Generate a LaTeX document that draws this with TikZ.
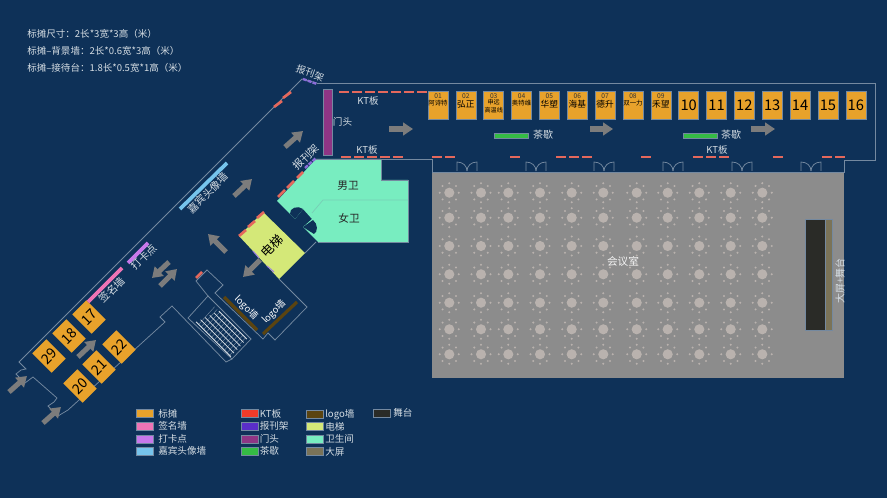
\documentclass[tikz,border=0pt]{standalone}
\usepackage{fontspec}
\setmainfont{Noto Sans CJK SC}
\usetikzlibrary{arrows.meta}
\definecolor{bgnavy}{HTML}{0E3158}
\definecolor{wallblue}{HTML}{7489A0}
\definecolor{labelgray}{HTML}{D5DDE3}
\definecolor{boothorange}{HTML}{E8A22B}
\definecolor{signpink}{HTML}{EE74B5}
\definecolor{checkviolet}{HTML}{C778EA}
\definecolor{guestblue}{HTML}{76C4EC}
\definecolor{ktred}{HTML}{F03B2A}
\definecolor{ktsalmon}{HTML}{E4685C}
\definecolor{rackindigo}{HTML}{5A2FC8}
\definecolor{gatepurple}{HTML}{8E3585}
\definecolor{teagreen}{HTML}{35BC45}
\definecolor{logobrown}{HTML}{5B4410}
\definecolor{liftyellow}{HTML}{D4E878}
\definecolor{wcmint}{HTML}{78EDC0}
\definecolor{screenolive}{HTML}{7A7358}
\definecolor{stageblack}{HTML}{2A2B27}
\definecolor{flowgray}{HTML}{7C7C7C}
\definecolor{roomgray}{HTML}{8C8C8C}
\definecolor{tabledisc}{HTML}{B9B2AE}
\tikzset{
  wall/.style={draw=wallblue, line width=0.55pt, line join=miter},
  ktdash/.style={draw=ktsalmon, line width=2pt},
  flowarrow/.style={draw=flowgray, line width=3.8pt, -{Triangle[length=7.5pt,width=9.5pt]}},
  boothbox/.style={draw=wallblue, line width=0.4pt, fill=boothorange, inner sep=0pt, minimum width=15pt, minimum height=21pt},
  diagbooth/.style={draw=none, fill=boothorange, inner sep=0pt, minimum width=15pt, minimum height=20.5pt, rotate=45, font=\fontsize{10.5pt}{11pt}\selectfont, text=black},
  tag/.style={text=labelgray, font=\fontsize{7.15pt}{8pt}\selectfont, inner sep=0pt},
  walltag/.style={tag, font=\fontsize{7.8pt}{8pt}\selectfont},
  swatch/.style={draw=wallblue, line width=0.3pt, minimum width=13pt, minimum height=6pt, inner sep=0pt, anchor=west},
  legendtag/.style={text=labelgray, font=\fontsize{7.2pt}{8pt}\selectfont, inner sep=0pt, anchor=west},
}
\begin{document}
\begin{tikzpicture}[x=0.75pt, y=-0.75pt]
  \useasboundingbox (0,0) rectangle (887,498);
  \fill[bgnavy] (0,0) rectangle (887,498);
  % notes
  \node[tag, anchor=west] (note1) at (27,34) {标摊尺寸：2长*3宽*3高（米）};
  \node[tag, anchor=west] (note2) at (27,51) {标摊--背景墙：2长*0.6宽*3高（米）};
  \node[tag, anchor=west] (note3) at (27,68) {标摊--接待台：1.8长*0.5宽*1高（米）};
  % outer walls
  \draw[wall] (317,83) -- (875,83) -- (875,160) -- (844,160);
  \draw[wall] (317,159) -- (432,159) -- (432,172);
  \draw[wall] (302,79) -- (19,362) -- (26,369) -- (21,370) -- (16,374) -- (25,383) -- (33,377) -- (57,398) -- (54,402) -- (48,406) -- (58,416) -- (68,410) -- (165,322) -- (160,317) -- (172,306) -- (226,362) -- (232,359);
  \draw[wall] (188,318) -- (208,296) -- (251,339) -- (232,359) -- cycle;
  \draw[wall] (208,296) -- (196,281) -- (207,270) -- (223,285) -- (215,293) -- (263,339) -- (268,333) -- (275,340) -- (307,307) -- (279,279);
  \draw[wall] (302,79) -- (317,83);
  \draw[wall] (305,253) -- (316,242);
  % stairs
  \foreach \ss in {0.2,0.26,...,0.96}
    \draw[wallblue, line width=0.3pt] ({208+43*\ss-20*0.1},{296+43*\ss+22*0.1}) -- ({208+43*\ss-20*0.9},{296+43*\ss+22*0.9});
  \foreach \st in {0.1,0.26,...,0.95}
    \draw[white!75!wallblue, line width=0.6pt] ({208+43*(0.32-0.2*\st)-20*\st},{296+43*(0.32-0.2*\st)+22*\st}) -- ({208+43*0.95-20*\st},{296+43*0.95+22*\st});
  % conference room
  \fill[roomgray] (432,172) rectangle (844,378);
  \draw[wall] (432,172) -- (844,172) -- (844,160);
  \foreach \doorx in {457,526,594,663,732,801} {
    \draw[wall] (\doorx,171) -- (\doorx,162) .. controls (\doorx+6,162) and (\doorx+10,166) .. (\doorx+10,171);
    \draw[wall] (\doorx+20,171) -- (\doorx+20,162) .. controls (\doorx+14,162) and (\doorx+10,166) .. (\doorx+10,171);
  }
  \foreach \tx in {449.3,481,508.3,540,571.7,603.3,636.7,667.7,699.3,730.7,762.3}
    \foreach \ty in {192.7,217.7,246,274.3,302.7,329.3,354.3} {
      \fill[tabledisc] (\tx,\ty) circle (3.8pt);
      \foreach \ang in {0,45,...,315}
        \fill[tabledisc] ({\tx+9.5*cos(\ang)},{\ty+9.5*sin(\ang)}) circle (0.85pt);
    }
  \node[tag, text=white!90!roomgray, font=\fontsize{8pt}{9pt}\selectfont] (meetingroom) at (623,261) {会议室};
  \fill[stageblack, draw=wallblue, line width=0.3pt] (805,219) rectangle (825,330);
  \fill[screenolive, draw=wallblue, line width=0.3pt] (825,219) rectangle (832.5,330);
  \node[tag, rotate=90, font=\fontsize{7.5pt}{8pt}\selectfont] (stagetag) at (840,281) {大屏+舞台};
  % booths in the hall
  \foreach \n/\i in {1/01,2/02,3/03,4/04,5/05,6/06,7/07,8/08,9/09} {
    \node[boothbox] (booth\i) at ({438+27.85*(\n-1)},105) {};
    \node[font=\fontsize{5pt}{6pt}\selectfont, text=black!80, inner sep=0pt] (num\i) at ({438+27.85*(\n-1)},96.5) {\i};
  }
  \foreach \n/\i/\nm in {1/01/阿诗特,4/04/奥特维,8/08/双一力}
    \node[font=\fontsize{4.8pt}{6pt}\selectfont, text=black, inner sep=0pt] (name\i) at ({438+27.85*(\n-1)},103.5) {\nm};
  \foreach \n/\i/\nm in {2/02/弘正,5/05/华塑,6/06/海基,7/07/德升,9/09/禾望}
    \node[font=\fontsize{6.5pt}{7pt}\selectfont, text=black, inner sep=0pt] (name\i) at ({438+27.85*(\n-1)},104.5) {\nm};
  \node[font=\fontsize{4.6pt}{6pt}\selectfont, text=black, inner sep=0pt, align=center] (name03) at (493.7,106) {申远\\高温线};
  \foreach \n in {10,...,16}
    \node[boothbox, text=black, font=\fontsize{11pt}{12pt}\selectfont] (booth\n) at ({438+27.85*(\n-1)},105) {\n};
  % booths in the corner
  \node[diagbooth] (booth17) at (89,317) {17};
  \node[diagbooth] (booth18) at (69,336) {18};
  \node[diagbooth] (booth29) at (49,356) {29};
  \node[diagbooth] (booth22) at (119,347) {22};
  \node[diagbooth] (booth21) at (99,367) {21};
  \node[diagbooth] (booth20) at (80,386) {20};
  % gate and tea breaks
  \fill[gatepurple, draw=wallblue, line width=0.3pt] (323,89) rectangle (332.5,155);
  \node[tag, font=\fontsize{7.2pt}{8pt}\selectfont] (gatetag) at (342.5,122) {门头};
  \fill[teagreen, draw=wallblue, line width=0.3pt] (494,133) rectangle (528,138);
  \fill[teagreen, draw=wallblue, line width=0.3pt] (683,133) rectangle (717,138);
  \node[tag, font=\fontsize{7.5pt}{8pt}\selectfont] (teatag1) at (543,135) {茶歇};
  \node[tag, font=\fontsize{7.5pt}{8pt}\selectfont] (teatag2) at (731,135) {茶歇};
  % KT boards
  \foreach \kx in {339,352,365,378,391,404,417}
    \draw[ktdash] (\kx,92) -- (\kx+10,92);
  \foreach \kx in {341,354,367,380,393,432,445,510,556,569,582,641,693,706,719,773,822,835}
    \draw[ktdash] (\kx,157) -- (\kx+10,157);
  \draw[ktdash] (274,107) -- (282,101);
  \draw[ktdash] (283,98) -- (291,92);
  % washrooms
  \fill[wcmint] (277,201) -- (316,159) -- (381,159) -- (381,180) -- (408,180) -- (408,242) -- (318,242) -- (303,227) -- (312,219) -- (303,209) -- (295,219) -- cycle;
  \draw[wall] (316,159) -- (381,159) -- (381,180) -- (408,180) -- (408,242) -- (318,242);
  \draw[wall, draw=wcmint!70!wallblue] (312,213) -- (323,200) -- (408,200);
  \fill[bgnavy] (295,219) -- (290,214) .. controls (289,208) and (298,205) .. (303,209) -- cycle;
  \fill[bgnavy] (303,227) -- (313,220) .. controls (318,224) and (318,232) .. (314,234) -- cycle;
  \node[font=\fontsize{8pt}{9pt}\selectfont, text=black!85, inner sep=0pt] (mentag) at (348,186) {男卫};
  \node[font=\fontsize{8pt}{9pt}\selectfont, text=black!85, inner sep=0pt] (womentag) at (349,218) {女卫};
  \draw[ktdash] (278,197) -- (285,190);
  \draw[ktdash] (287,188) -- (294,181);
  \draw[ktdash] (297,178) -- (303,172);
  % lift
  \fill[liftyellow] (239,236) -- (263,212) -- (305,253) -- (279,279) -- cycle;
  \draw[rackindigo!60!white, line width=0.8pt] (253,251) -- (259,258);
  \draw[rackindigo!60!white, line width=0.8pt] (267,266) -- (274,272);
  \node[font=\fontsize{9.5pt}{10pt}\selectfont, text=black, inner sep=0pt, rotate=45] (lifttag) at (272,246) {电梯};
  \draw[ktdash] (239,236) -- (246,230);
  \draw[ktdash] (248,227) -- (255,221);
  \draw[ktdash] (257,218) -- (264,212);
  \draw[ktdash] (196,278) -- (202,272);
  \node[tag] (kttag1) at (368,101) {KT板};
  \node[tag] (kttag2) at (367,150) {KT板};
  \node[tag] (kttag3) at (717,150) {KT板};
  % walls with graphics
  \draw[signpink, line width=2.8pt] (88,302) -- (122,268);
  \draw[checkviolet, line width=2.8pt] (128,263) -- (148,243);
  \draw[guestblue, line width=2.8pt] (180,209) -- (227,163);
  \draw[logobrown, line width=2.4pt] (224,297) -- (257,330);
  \draw[logobrown, line width=2.4pt] (263,334) -- (297,302);
  \draw[rackindigo!70!white, line width=1.8pt, dash pattern=on 3pt off 0.8pt] (303,79) -- (317,84);
  \draw[rackindigo!70!white, line width=1.8pt, dash pattern=on 3pt off 0.8pt] (305,168) -- (316,158);
  \node[walltag, rotate=45] (signtag) at (112,290) {签名墙};
  \node[walltag, rotate=45] (checktag) at (144,257) {打卡点};
  \node[walltag, rotate=45] (guesttag) at (208,193) {嘉宾头像墙};
  \node[tag, rotate=-20] (racktag1) at (310,73) {报刊架};
  \node[walltag, rotate=45] (racktag2) at (306,157) {报刊架};
  \node[walltag, rotate=-45, text=white, font=\fontsize{7pt}{8pt}\selectfont] (logotag1) at (246,308) {logo墙};
  \node[walltag, rotate=45, text=white, font=\fontsize{7pt}{8pt}\selectfont] (logotag2) at (274,312) {logo墙};
  % flow of visitors
  \draw[flowarrow] (389,129) -- (413,129);
  \draw[flowarrow] (590,129) -- (613,129);
  \draw[flowarrow] (751,129) -- (775,129);
  \draw[flowarrow] (285,147) -- (303,131);
  \draw[flowarrow] (234,196) -- (252,179);
  \draw[flowarrow] (226,252) -- (208,234);
  \draw[flowarrow] (260,260) -- (243,277);
  \draw[flowarrow] (169,262) -- (152,278);
  \draw[flowarrow] (160,286) -- (177,269);
  \draw[flowarrow] (78,357) -- (96,340);
  \draw[flowarrow] (9,392) -- (27,376);
  \draw[flowarrow] (43,423) -- (61,407);
  % legend
  \node[swatch, fill=boothorange] (key1) at (136,413.5) {};
  \node[legendtag] (keytag1) at (158,413.5) {标摊};
  \node[swatch, fill=signpink] (key2) at (136,426) {};
  \node[legendtag] (keytag2) at (158,426) {签名墙};
  \node[swatch, fill=checkviolet] (key3) at (136,439) {};
  \node[legendtag] (keytag3) at (158,439) {打卡点};
  \node[swatch, fill=guestblue] (key4) at (136,451) {};
  \node[legendtag] (keytag4) at (158,451) {嘉宾头像墙};
  \node[swatch, fill=ktred] (key5) at (241,413.5) {};
  \node[legendtag] (keytag5) at (259.5,413.5) {KT板};
  \node[swatch, fill=rackindigo] (key6) at (241,426) {};
  \node[legendtag] (keytag6) at (259.5,426) {报刊架};
  \node[swatch, fill=gatepurple] (key7) at (241,439) {};
  \node[legendtag] (keytag7) at (259.5,439) {门头};
  \node[swatch, fill=teagreen] (key8) at (241,451) {};
  \node[legendtag] (keytag8) at (259.5,451) {茶歇};
  \node[swatch, fill=logobrown] (key9) at (306,414.5) {};
  \node[legendtag] (keytag9) at (325,414.5) {logo墙};
  \node[swatch, fill=liftyellow] (key10) at (306,426.5) {};
  \node[legendtag] (keytag10) at (325,426.5) {电梯};
  \node[swatch, fill=wcmint] (key11) at (306,439) {};
  \node[legendtag] (keytag11) at (325,439) {卫生间};
  \node[swatch, fill=screenolive] (key12) at (306,451.5) {};
  \node[legendtag] (keytag12) at (325,451.5) {大屏};
  \node[swatch, fill=stageblack] (key13) at (373,413) {};
  \node[legendtag] (keytag13) at (393,413) {舞台};
\end{tikzpicture}
\end{document}
